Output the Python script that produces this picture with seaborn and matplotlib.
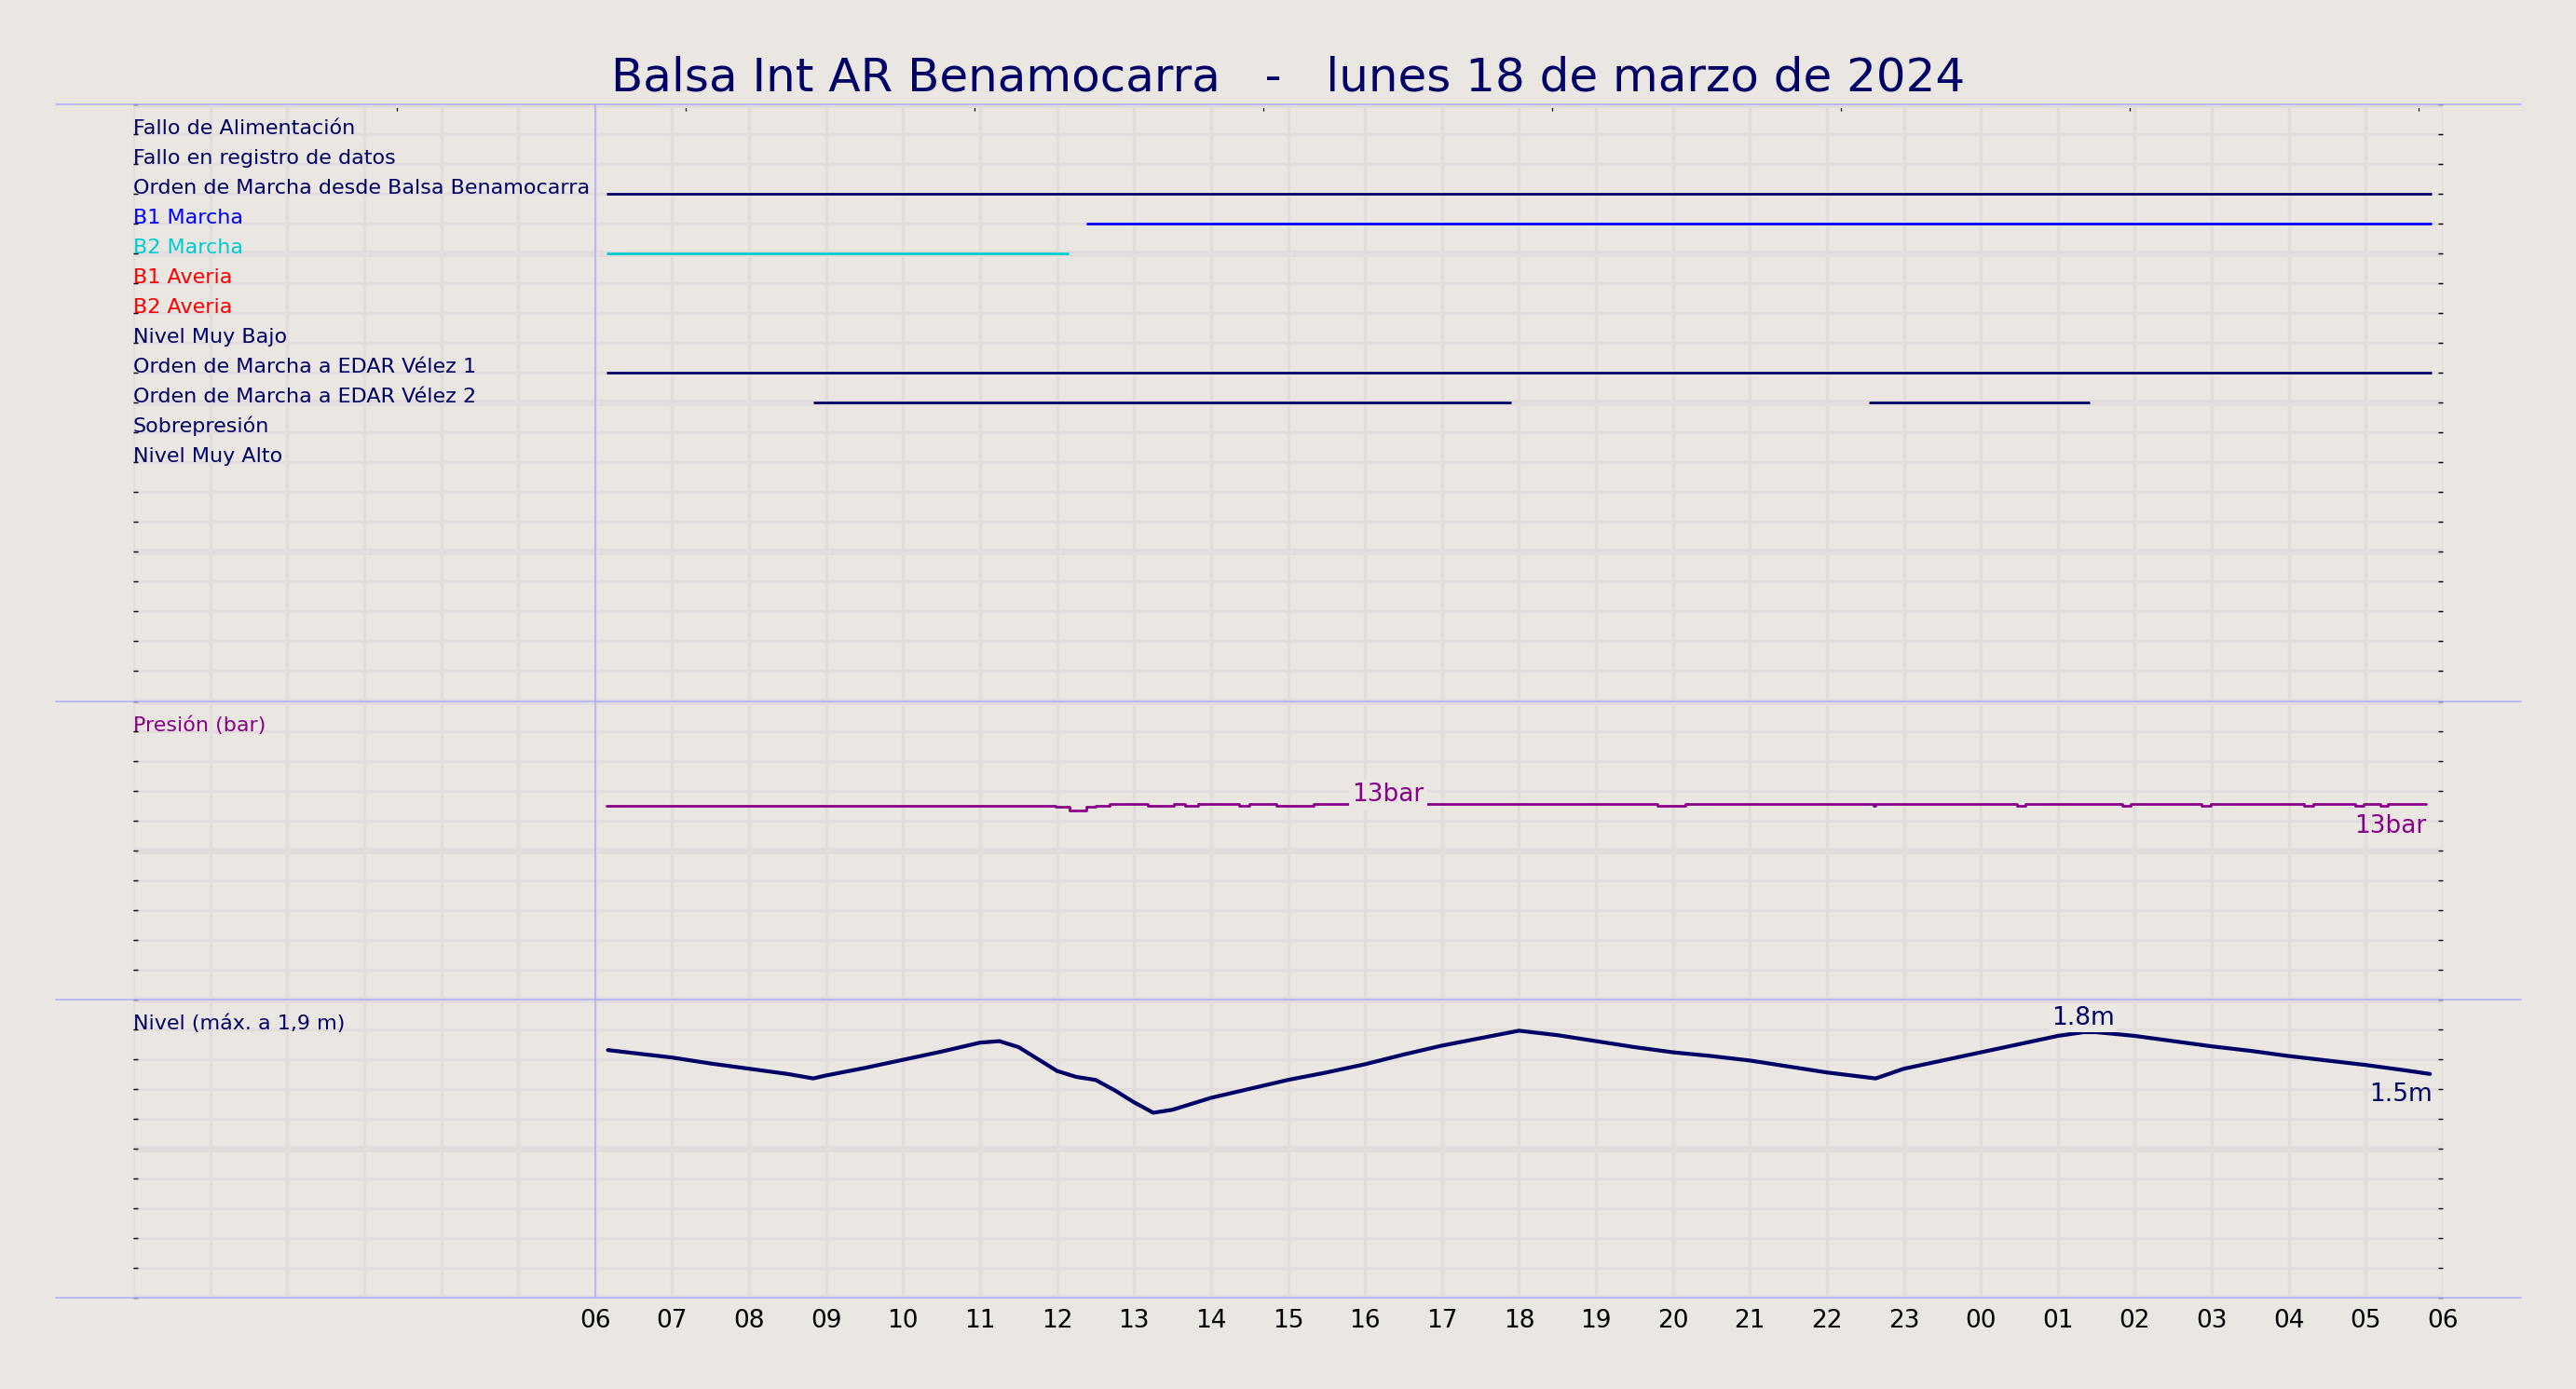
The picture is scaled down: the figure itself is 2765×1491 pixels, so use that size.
import pandas as pd
import numpy as np
from matplotlib import pyplot as plt
import matplotlib.dates as mdates
import seaborn as sns

bg = '#EAE6E1'
grid = '#E2DDDC'
navy = '#000066'
purple = '#880088'
lightblue = '#B0B0FF'

title = 'Balsa Int AR Benamocarra   -   lunes 18 de marzo de 2024'
day = pd.Timestamp('2024-03-18')

# digital signals, one row each (top panel)
signal_labels = ['Fallo de Alimentación', 'Fallo en registro de datos',
                 'Orden de Marcha desde Balsa Benamocarra', 'B1 Marcha',
                 'B2 Marcha', 'B1 Averia', 'B2 Averia', 'Nivel Muy Bajo',
                 'Orden de Marcha a EDAR Vélez 1',
                 'Orden de Marcha a EDAR Vélez 2', 'Sobrepresión',
                 'Nivel Muy Alto']
signal_colors = [navy, navy, navy, 'blue', '#00CED1', 'red', 'red', navy,
                 navy, navy, navy, navy]

# active periods: signal row, start, end
seg_row = [3, 4, 5, 9, 10, 10]
seg_start = ['06:09', '12:23', '06:09', '06:09', '08:50', '22:33']
seg_end = ['05:51', '05:51', '12:09', '05:51', '17:54', '01:25']

# Presión (bar)
pressure_time = ['06:09', '11:59', '12:10', '12:23', '12:30', '12:41',
                 '13:11', '13:31', '13:40', '13:50', '14:22', '14:30',
                 '14:51', '15:20', '19:48', '20:10', '22:36', '22:38',
                 '00:28', '00:35', '01:50', '01:57', '02:52', '02:59',
                 '04:12', '04:19', '04:52', '04:58', '05:11', '05:17',
                 '05:47']
pressure_bar = [13.0, 12.9, 12.65, 12.9, 13.0, 13.1,
                13.0, 13.1, 13.0, 13.1, 13.0, 13.1,
                13.0, 13.1, 13.0, 13.1, 13.0, 13.1,
                13.0, 13.1, 13.0, 13.1, 13.0, 13.1,
                13.0, 13.1, 13.0, 13.1, 13.0, 13.1,
                13.1]

# Nivel (m)
level_time = ['06:10', '06:30', '07:00', '07:30', '08:00', '08:30', '08:50',
              '09:00', '09:30', '10:00', '10:30', '11:00', '11:15', '11:30',
              '12:00', '12:15', '12:30', '12:45', '13:00', '13:15', '13:30',
              '14:00', '14:30',
              '15:00', '15:30', '16:00', '16:30', '17:00', '17:30', '18:00',
              '18:30', '19:00', '19:30', '20:00', '20:30', '21:00', '21:30',
              '22:00', '22:38', '23:00', '23:30', '00:00', '00:30', '01:00',
              '01:20', '01:30', '02:00', '02:30', '03:00', '03:30', '04:00',
              '04:30', '05:00', '05:30', '05:50']
level_m = [1.66, 1.64, 1.61, 1.57, 1.535, 1.50, 1.47,
           1.49, 1.54, 1.595, 1.65, 1.71, 1.72, 1.68,
           1.52, 1.48, 1.46, 1.39, 1.31, 1.24, 1.26,
           1.34, 1.40,
           1.46, 1.51, 1.565, 1.63, 1.69, 1.74, 1.79,
           1.76, 1.72, 1.68, 1.645, 1.62, 1.59, 1.55,
           1.51, 1.47, 1.535, 1.59, 1.645, 1.70, 1.755,
           1.78, 1.78, 1.755, 1.72, 1.685, 1.655, 1.62,
           1.59, 1.56, 1.525, 1.50]

hour_ticks_top = [3.43, 7.18, 10.93, 14.68, 18.43, 22.18, 25.93, 29.68]


def stamp(hhmm):
    t = day + pd.Timedelta(hhmm + ':00')
    if hhmm < '06:00':
        t += pd.Timedelta(days=1)
    return t


sns.set_theme(style='white', rc={'axes.facecolor': bg,
                                 'figure.facecolor': bg})
plt.rcParams['font.family'] = ['DejaVu Sans']

fig = plt.figure(figsize=(27.65, 14.91), dpi=100)
ax = fig.add_axes([143 / 2765, 1 - 1393 / 1491, 2479 / 2765, 1281 / 1491])

# level: 0..2 m over the last 10 rows, pressure: 0..20 bar over 10 rows
level = pd.DataFrame({'time': [stamp(t) for t in level_time],
                      'row': 40 - 5 * np.array(level_m)})
pres = pd.DataFrame({'time': [stamp(t) for t in pressure_time],
                     'row': 30 - 0.5 * np.array(pressure_bar)})

sns.lineplot(data=pres, x='time', y='row', color=purple, lw=2,
             drawstyle='steps-post', estimator=None, ax=ax)
sns.lineplot(data=level, x='time', y='row', color=navy, lw=3,
             estimator=None, ax=ax)

for r, s, e in zip(seg_row, seg_start, seg_end):
    ax.hlines(r, mdates.date2num(stamp(s)), mdates.date2num(stamp(e)),
              color=signal_colors[r - 1], lw=2)

x0 = mdates.date2num(day)
for i, (lab, c) in enumerate(zip(signal_labels, signal_colors)):
    ax.text(x0, i + 1, lab, color=c, fontsize=16, va='baseline', ha='left')
ax.text(x0, 21, 'Presión (bar)', color=purple, fontsize=16, va='baseline')
ax.text(x0, 31, 'Nivel (máx. a 1,9 m)', color=navy, fontsize=16,
        va='baseline')

# value labels
box = dict(boxstyle='square,pad=0.12', fc=bg, ec='none')
mid = pres['time'].searchsorted(stamp('16:18')) - 1
ax.annotate('%dbar' % round(pressure_bar[mid]),
            xy=(mdates.date2num(stamp('16:18')), pres['row'][mid]),
            xytext=(0, -2.5), textcoords='offset points', ha='center',
            va='bottom', color=purple, fontsize=19, bbox=box)
ax.annotate('%dbar' % round(pressure_bar[-1]),
            xy=(mdates.date2num(pres['time'].iloc[-1]), pres['row'].iloc[-1]),
            xytext=(0, -8), textcoords='offset points', ha='right',
            va='top', color=purple, fontsize=19)
night = level['time'] > stamp('22:00')
pk = level.loc[night, 'row'].idxmin()
ax.annotate('%.1fm' % level_m[pk],
            xy=(mdates.date2num(level['time'][pk]), level['row'][pk]),
            xytext=(0, 1.5), textcoords='offset points', ha='center',
            va='bottom', color=navy, fontsize=19,
            bbox=dict(boxstyle='square,pad=0.08', fc='#ECE8E4', ec='none'))
ax.annotate('%.1fm' % level_m[-1],
            xy=(mdates.date2num(level['time'].iloc[-1]), level['row'].iloc[-1]),
            xytext=(2, -6.5), textcoords='offset points', ha='right',
            va='top', color=navy, fontsize=19)

# panel separators and start of day
for y in [0, 20, 30, 40]:
    ax.axhline(y, xmin=-0.0335, xmax=1.034, color=lightblue, lw=1.2,
               clip_on=False, zorder=3)
ax.axvline(mdates.date2num(day + pd.Timedelta(hours=6)), color=lightblue,
           lw=1.2, zorder=3)

ax.set_xlim(x0, mdates.date2num(day + pd.Timedelta(hours=30)))
ax.set_ylim(40, 0)
ax.set_xticks(mdates.date2num(pd.date_range(day + pd.Timedelta(hours=6),
                                            periods=25, freq='h')))
ax.set_xticks(mdates.date2num(pd.date_range(day, periods=6, freq='h')),
              minor=True)
ax.xaxis.set_major_formatter(mdates.DateFormatter('%H'))
ax.set_yticks(range(0, 41, 5))
ax.set_yticks(range(41), minor=True)
ax.set_yticklabels([])
ax.set_xlabel('')
ax.set_ylabel('')

ax.grid(True, axis='x', which='both', color=grid, lw=2.4)
ax.grid(True, axis='y', which='major', color=grid, lw=5)
ax.grid(True, axis='y', which='minor', color=grid, lw=2.4)
ax.set_axisbelow(True)
ax.tick_params(axis='x', which='both', length=0, pad=8.6, labelsize=19,
               labelcolor='black')
ax.tick_params(axis='y', which='both', left=True, right=True,
               direction='in', length=3.5, width=1.0, color='black')
for s in ax.spines.values():
    s.set_visible(False)

top = ax.secondary_xaxis('top')
top.set_xticks(mdates.date2num([day + pd.Timedelta(hours=h)
                                for h in hour_ticks_top]))
top.tick_params(axis='x', which='both', direction='in', length=5,
                width=0.9, color='black', labeltop=False)
top.xaxis.set_minor_locator(plt.NullLocator())
top.spines['top'].set_visible(False)

fig.text(0.5, 1 - 98 / 1491, title, ha='center', va='baseline',
         fontsize=36, color=navy)

fig.savefig('out.png', dpi=100, facecolor=bg)
